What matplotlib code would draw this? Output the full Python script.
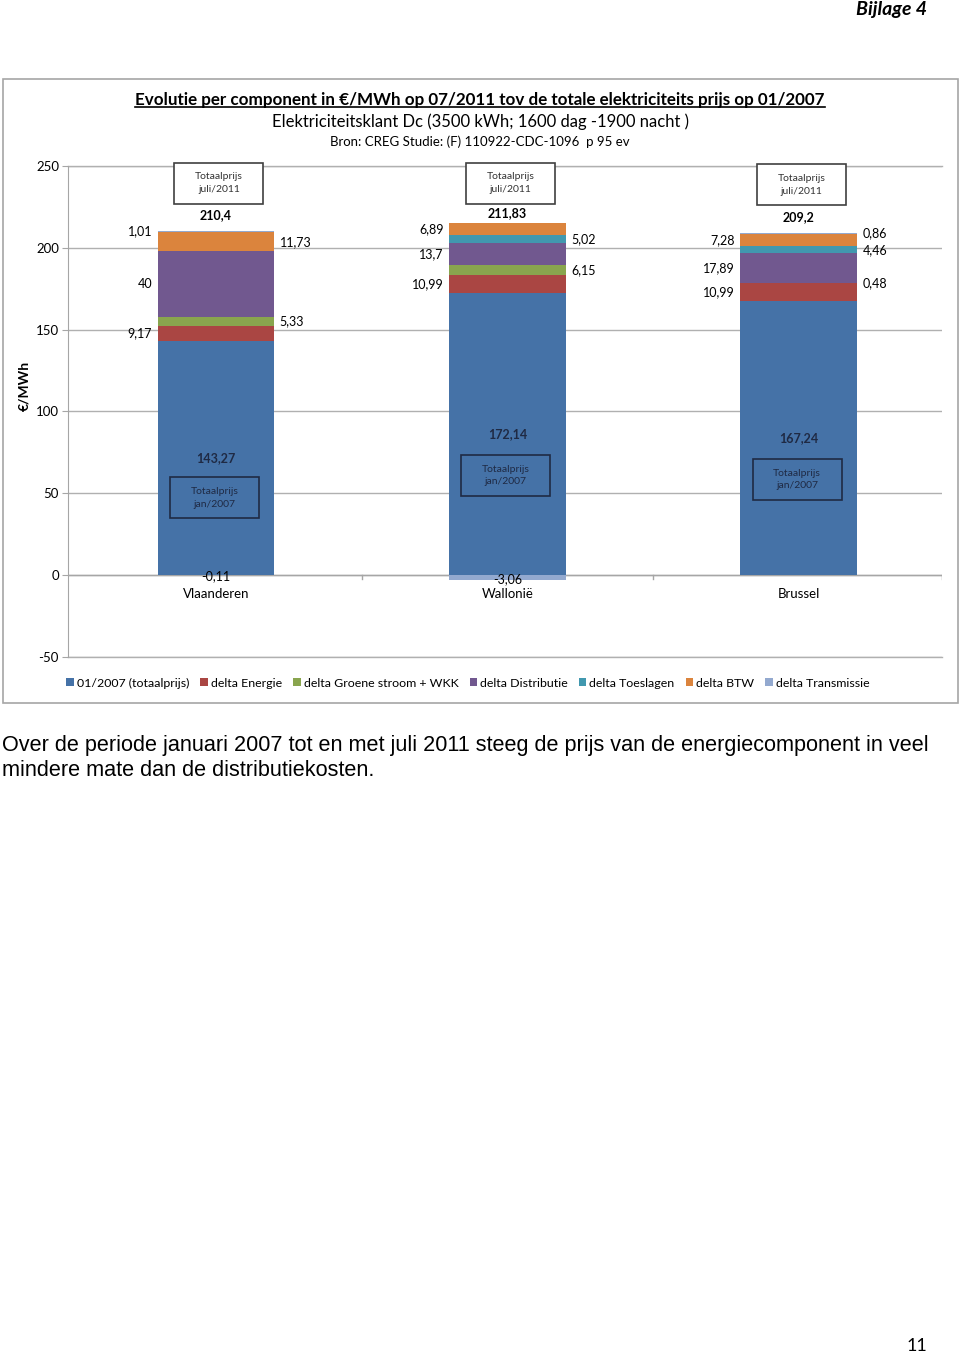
import matplotlib
matplotlib.use("Agg")
import matplotlib.pyplot as plt
from matplotlib.patches import Rectangle
from matplotlib.lines import Line2D
import numpy as np

plt.rcParams["font.family"] = ["Lato", "DejaVu Sans"]
plt.rcParams["axes.unicode_minus"] = False

# data
regions = ["Vlaanderen", "Wallonië", "Brussel"]
series = ["01/2007 (totaalprijs)", "delta Energie", "delta Groene stroom + WKK",
          "delta Distributie", "delta Toeslagen", "delta BTW", "delta Transmissie"]
base_2007 = [143.27, 172.14, 167.24]
d_energie = [9.17, 10.99, 10.99]
d_groen = [5.33, 6.15, 0.48]
d_distributie = [40.0, 13.7, 17.89]
d_toeslagen = [-0.11, 5.02, 4.46]
d_btw = [11.73, 6.89, 7.28]
d_transmissie = [1.01, -3.06, 0.86]
total_2011 = [210.4, 211.83, 209.2]

colors = ["#4572A7", "#AA4643", "#89A54E", "#71588F", "#4198AF", "#DB843D", "#93A9CF"]
# label side for each delta series per region: -1 left, +1 right, 0 centered
label_side = [
    [-1, 1, -1, 0, 1, -1],
    [-1, 1, -1, 1, -1, 0],
    [-1, 1, -1, 1, -1, 1],
]

def fmt(v):
    return f"{v:g}".replace(".", ",")

W, H = 960, 1355
fig = plt.figure(figsize=(W / 100, H / 100), dpi=100)

# chart frame
fig.patches.append(Rectangle((3 / W, 1 - 703 / H), 955 / W, 624 / H, transform=fig.transFigure,
                             fill=False, edgecolor="#A6A6A6", linewidth=1.2))

ax = fig.add_axes([68 / W, 1 - 657 / H, 874 / W, 491 / H])
ax.set_xlim(-0.508, 2.492)
ax.set_ylim(-50, 250)
ax.set_yticks(range(-50, 251, 50))
ax.tick_params(axis="y", labelsize=9.5, length=4, color="#A6A6A6", pad=2.5)
ax.tick_params(axis="x", length=0, labelbottom=False)
for s in ["top", "right", "bottom"]:
    ax.spines[s].set_visible(False)
ax.spines["left"].set_color("#A6A6A6")
ax.grid(axis="y", color="#B0B0B0", linewidth=1)
ax.set_axisbelow(True)
for yl in [-50, 250]:
    ax.axhline(yl, color="#B0B0B0", linewidth=1, zorder=0, clip_on=False)
ax.axhline(0, color="#A6A6A6", linewidth=1, zorder=1)
for xb in [0.5, 1.5, 2.492]:
    ax.plot([xb, xb], [0, -2.5], color="#A6A6A6", linewidth=1, zorder=1)

x = np.arange(len(regions))
bw = 0.4
all_series = [base_2007, d_energie, d_groen, d_distributie, d_toeslagen, d_btw, d_transmissie]
pos_bottom = np.zeros(3)
neg_bottom = np.zeros(3)
mids = []
for vals, c, name in zip(all_series, colors, series):
    vals = np.array(vals)
    bottoms = np.where(vals >= 0, pos_bottom, neg_bottom)
    ax.bar(x, vals, bw, bottom=bottoms, color=c, label=name, zorder=2)
    mids.append(bottoms + vals / 2)
    pos_bottom = pos_bottom + np.where(vals >= 0, vals, 0)
    neg_bottom = neg_bottom + np.where(vals < 0, vals, 0)

# base labels (bold, centered)
for i in range(3):
    ax.text(x[i], mids[0][i], fmt(base_2007[i]), ha="center", va="center",
            fontsize=9, fontweight="bold", color="#1F2A44", zorder=3)
# delta labels
for k, vals in enumerate(all_series[1:]):
    for i in range(3):
        side = label_side[i][k]
        if side == 0:
            ax.annotate(fmt(vals[i]), (x[i], mids[k + 1][i]), xytext=(0, -1), textcoords="offset points",
                        ha="center", va="center", fontsize=9, zorder=3)
        else:
            ax.annotate(fmt(vals[i]), (x[i] + side * bw / 2, mids[k + 1][i]),
                        xytext=(side * 4, 0), textcoords="offset points",
                        ha="left" if side > 0 else "right", va="center", fontsize=9, zorder=3)
# totals
for i in range(3):
    ax.annotate(fmt(total_2011[i]), (x[i], total_2011[i]), xytext=(0, 7),
                textcoords="offset points", ha="center", va="bottom",
                fontsize=9, fontweight="bold")

# category labels
for i, r in enumerate(regions):
    ax.annotate(r, (x[i], 0), xytext=(0, -9), textcoords="offset points",
                ha="center", va="top", fontsize=9.5)

# annotation boxes
bx_w, bx_h = 0.305, 25
for i, yc in zip(range(3), [239.5, 239.5, 238.5]):
    ax.add_patch(Rectangle((x[i] + 0.01 - bx_w / 2, yc - bx_h / 2), bx_w, bx_h,
                           facecolor="white", edgecolor="#404040", linewidth=1.2, zorder=3,
                           clip_on=False))
    ax.text(x[i] + 0.01, yc, "Totaalprijs\njuli/2011", ha="center", va="center",
            fontsize=7.5, linespacing=1.5, color="#333333", zorder=4)
for i, yc in zip(range(3), [47.3, 61, 58.3]):
    ax.add_patch(Rectangle((x[i] - 0.005 - bx_w / 2, yc - bx_h / 2), bx_w, bx_h,
                           fill=False, edgecolor="#1F2A44", linewidth=1.2, zorder=3))
    ax.text(x[i] - 0.005, yc, "Totaalprijs\njan/2007", ha="center", va="center",
            fontsize=7.5, linespacing=1.5, color="#1F2A44", zorder=4)

ax.set_ylabel("€/MWh", fontsize=10, fontweight="bold")
ax.yaxis.set_label_coords(-0.043, 0.553)

# titles
t1 = fig.text(480 / W, 1 - 100 / H, "Evolutie per component in €/MWh op 07/2011 tov de totale elektriciteits prijs op 01/2007",
              ha="center", va="center", fontsize=12.25, fontweight="bold")
fig.text(480 / W, 1 - 122 / H, "Elektriciteitsklant Dc (3500 kWh; 1600 dag -1900 nacht )",
         ha="center", va="center", fontsize=12)
fig.text(480 / W, 1 - 142 / H, "Bron: CREG Studie: (F) 110922-CDC-1096  p 95 ev",
         ha="center", va="center", fontsize=9.5)

fig.legend(loc="center", bbox_to_anchor=(468 / W, 1 - 683 / H), ncol=7, frameon=False,
           fontsize=8.9, handlelength=0.6, handleheight=0.6, handletextpad=0.25,
           columnspacing=0.9)

fig.text(927 / W, 1 - 10 / H, "Bijlage 4", ha="right", va="center", fontsize=14,
         fontweight="bold", style="italic")
fig.text(2 / W, 1 - 746 / H, "Over de periode januari 2007 tot en met juli 2011 steeg de prijs van de energiecomponent in veel",
         ha="left", va="center", fontsize=15.6, family="Liberation Sans")
fig.text(2 / W, 1 - 770 / H, "mindere mate dan de distributiekosten.",
         ha="left", va="center", fontsize=15.6, family="Liberation Sans")
fig.text(927 / W, 1 - 1346 / H, "11", ha="right", va="center", fontsize=13)

# underline the main title
fig.canvas.draw()
bb = t1.get_window_extent().transformed(fig.transFigure.inverted())
fig.add_artist(Line2D([bb.x0, bb.x1], [bb.y0 + 0.0005, bb.y0 + 0.0005], transform=fig.transFigure,
                      color="black", linewidth=1.2))

fig.savefig("out.png", dpi=100)
